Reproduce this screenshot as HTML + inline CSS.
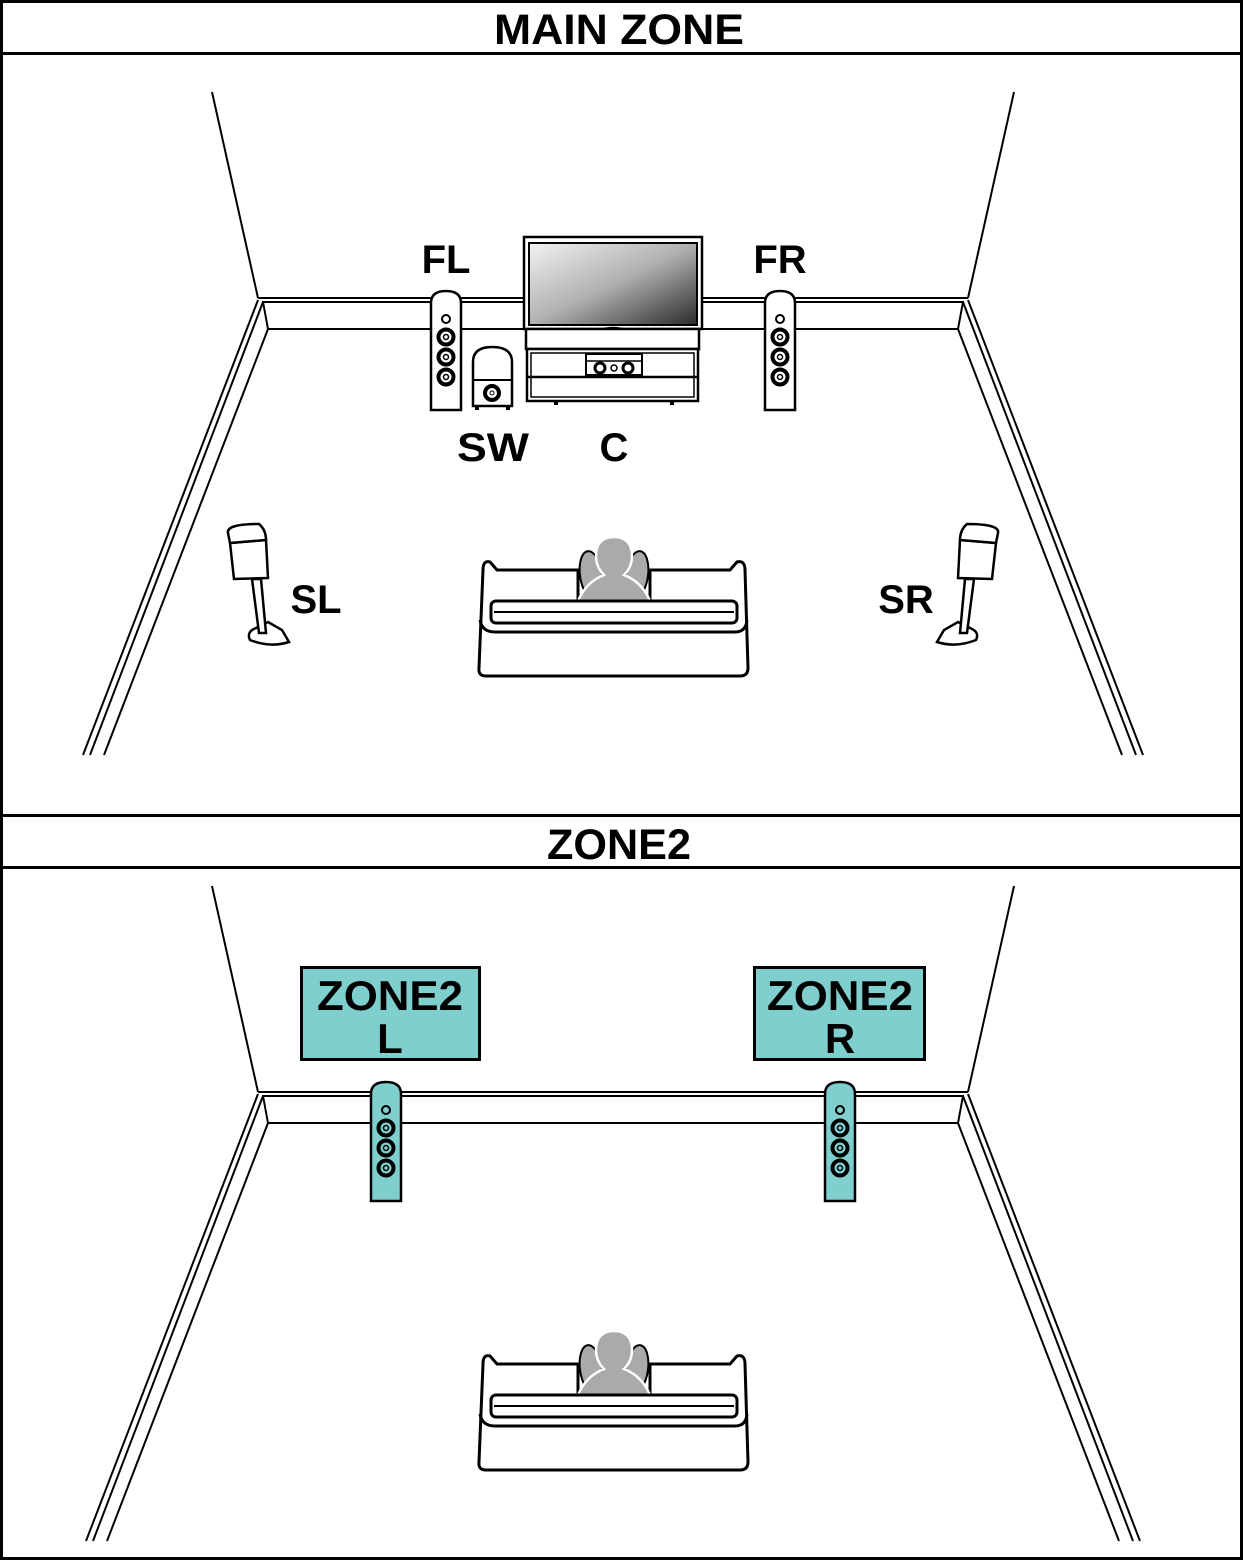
<!DOCTYPE html>
<html><head><meta charset="utf-8"><style>
html,body{margin:0;padding:0;background:#fff}
svg{display:block}
text{font-family:"Liberation Sans",sans-serif;font-weight:bold;fill:#000}
</style></head><body>
<svg width="1243" height="1561" viewBox="0 0 1243 1561" xmlns="http://www.w3.org/2000/svg">
<defs>
<linearGradient id="scr" x1="0" y1="0" x2="1" y2="1">
<stop offset="0" stop-color="#f2f2f2"/><stop offset="0.5" stop-color="#b0b0b0"/><stop offset="1" stop-color="#2a2a2a"/>
</linearGradient>
<g id="walls" fill="none" stroke="#000" stroke-width="2">
<line x1="212" y1="92" x2="258" y2="298"/>
<line x1="1014" y1="92" x2="968" y2="298"/>
<line x1="258" y1="298" x2="968" y2="298"/>
<line x1="262" y1="302" x2="964" y2="302"/>
<line x1="268" y1="329" x2="958" y2="329"/>
<line x1="263" y1="302" x2="268" y2="329"/>
<line x1="963" y1="302" x2="958" y2="329"/>
</g>
<g id="sofa">
<path d="M483,570 Q483,560 490,562 L497,570 L578,570 L578,600 L650,600 L650,570 L730,570 L737,562 Q745,560 745,570 L748,668 Q748,676 740,676 L486,676 Q478,676 479,668 Z" fill="#fff" stroke="#000" stroke-width="3"/>
<path d="M480,620 Q482,632 495,632 L735,632 Q746,632 747,620" fill="none" stroke="#000" stroke-width="3"/>
<ellipse cx="591" cy="575" rx="11" ry="24" transform="rotate(-8 591 575)" fill="#aaa" stroke="#000" stroke-width="2"/>
<ellipse cx="637" cy="575" rx="11" ry="24" transform="rotate(8 637 575)" fill="#aaa" stroke="#000" stroke-width="2"/>
<path d="M578,601 Q586,582 604,575 Q596,567 596,556 Q596,537 614,537 Q632,537 632,556 Q632,567 624,575 Q642,582 650,601 Z" fill="#aaa" stroke="#fff" stroke-width="2.5"/>
<rect x="491" y="601" width="246" height="22" rx="5" fill="#fff" stroke="#000" stroke-width="3"/>
<line x1="494" y1="612" x2="734" y2="612" stroke="#000" stroke-width="2"/>
</g>
<g id="tower">
<path d="M0,119 L0,12 Q0,0 15,0 Q30,0 30,12 L30,119 Z" stroke="#000" stroke-width="2.5"/>
<circle cx="15" cy="28" r="4" fill="none" stroke="#000" stroke-width="2"/>
<g fill="none" stroke="#000"><circle cx="15" cy="46" r="7.5" stroke-width="4"/><circle cx="15" cy="46" r="2.5" stroke-width="1.5"/>
<circle cx="15" cy="66" r="7.5" stroke-width="4"/><circle cx="15" cy="66" r="2.5" stroke-width="1.5"/>
<circle cx="15" cy="86" r="7.5" stroke-width="4"/><circle cx="15" cy="86" r="2.5" stroke-width="1.5"/></g>
</g>
</defs>
<rect x="1.5" y="1.5" width="1240" height="1557" fill="#fff" stroke="#000" stroke-width="3"/>
<line x1="0" y1="53.5" x2="1243" y2="53.5" stroke="#000" stroke-width="3"/>
<line x1="0" y1="815.5" x2="1243" y2="815.5" stroke="#000" stroke-width="3"/>
<line x1="0" y1="867.5" x2="1243" y2="867.5" stroke="#000" stroke-width="3"/>
<text x="619" y="44" font-size="43" text-anchor="middle" textLength="250" lengthAdjust="spacingAndGlyphs">MAIN ZONE</text>
<text x="619" y="859" font-size="43" text-anchor="middle" textLength="144" lengthAdjust="spacingAndGlyphs">ZONE2</text>

<use href="#walls"/>
<use href="#walls" transform="translate(0,794)"/>
<g fill="none" stroke="#000" stroke-width="2">
<line x1="258" y1="300" x2="83" y2="755"/><line x1="263" y1="302" x2="90" y2="755"/><line x1="268" y1="329" x2="104" y2="755"/>
<line x1="968" y1="300" x2="1143" y2="755"/><line x1="963" y1="302" x2="1136" y2="755"/><line x1="958" y1="329" x2="1122" y2="755"/>
<line x1="258" y1="1094" x2="86" y2="1541"/><line x1="263" y1="1096" x2="93" y2="1541"/><line x1="268" y1="1123" x2="107" y2="1541"/>
<line x1="968" y1="1094" x2="1140" y2="1541"/><line x1="963" y1="1096" x2="1133" y2="1541"/><line x1="958" y1="1123" x2="1119" y2="1541"/>
</g>
<use href="#sofa"/>
<use href="#sofa" transform="translate(0,794)"/>

<!-- TV -->
<rect x="524" y="237" width="178" height="92" fill="#fff" stroke="#000" stroke-width="2.5"/>
<rect x="529" y="243" width="168" height="82" fill="url(#scr)" stroke="#000" stroke-width="2"/>
<path d="M582,341 Q584,330 613,328 Q642,330 644,341 Z" fill="#fff" stroke="#000" stroke-width="2.5"/>
<rect x="526" y="329" width="173" height="20" fill="#fff" stroke="#000" stroke-width="2.5"/>
<rect x="527" y="349" width="171" height="52" fill="#fff" stroke="#000" stroke-width="2.5"/>
<rect x="531" y="353" width="163" height="44" fill="none" stroke="#000" stroke-width="1.5"/>
<line x1="527" y1="377" x2="698" y2="377" stroke="#000" stroke-width="2.5"/>
<rect x="554" y="401" width="4" height="4" fill="#000"/><rect x="670" y="401" width="4" height="4" fill="#000"/>
<rect x="586" y="354" width="56" height="21" fill="#fff" stroke="#000" stroke-width="2"/>
<line x1="586" y1="361" x2="642" y2="361" stroke="#000" stroke-width="1.5"/>
<g fill="#fff" stroke="#000"><circle cx="600" cy="368" r="5" stroke-width="3"/><circle cx="614" cy="368" r="3" stroke-width="1.5"/><circle cx="628" cy="368" r="5" stroke-width="3"/></g>

<use href="#tower" transform="translate(431,291)" fill="#fff"/>
<use href="#tower" transform="translate(765,291)" fill="#fff"/>
<!-- SW -->
<path d="M473,406 L473,362 Q473,347 492,347 Q512,347 512,362 L512,406 Z" fill="#fff" stroke="#000" stroke-width="2.5"/>
<line x1="473" y1="380" x2="512" y2="380" stroke="#000" stroke-width="2"/>
<circle cx="492" cy="393" r="7" fill="#fff" stroke="#000" stroke-width="4"/><circle cx="492" cy="393" r="2" fill="none" stroke="#000"/>
<rect x="475" y="406" width="4" height="4" fill="#000"/><rect x="506" y="406" width="4" height="4" fill="#000"/>

<!-- SL -->
<g fill="#fff" stroke="#000" stroke-width="2.5">
<path d="M250,640 Q246,632 256,628 L268,622 L282,630 L289,642 Q270,648 250,640 Z"/>
<path d="M252,579 L261,579 L266,633 L259,633 Z"/>
<path d="M230,543 L234,579 L268,578 L266,540 Z"/>
<path d="M228,533 Q226,524 259,524 Q266,530 266,540 L230,543 Z"/>
</g>
<!-- SR -->
<g fill="#fff" stroke="#000" stroke-width="2.5">
<path d="M976,640 Q980,632 970,628 L958,622 L944,630 L937,642 Q956,648 976,640 Z"/>
<path d="M974,579 L965,579 L960,633 L967,633 Z"/>
<path d="M996,543 L992,579 L958,578 L960,540 Z"/>
<path d="M998,533 Q1000,524 967,524 Q960,530 960,540 L996,543 Z"/>
</g>

<text x="446" y="273" font-size="40" text-anchor="middle">FL</text>
<text x="780" y="273" font-size="40" text-anchor="middle">FR</text>
<text x="493" y="461" font-size="40" text-anchor="middle" textLength="72" lengthAdjust="spacingAndGlyphs">SW</text>
<text x="614" y="461" font-size="40" text-anchor="middle">C</text>
<text x="316" y="613" font-size="40" text-anchor="middle">SL</text>
<text x="906" y="613" font-size="40" text-anchor="middle">SR</text>

<!-- Zone2 -->
<rect x="301.5" y="967.5" width="178" height="92" fill="#80cfcf" stroke="#000" stroke-width="3"/>
<rect x="754.5" y="967.5" width="170" height="92" fill="#80cfcf" stroke="#000" stroke-width="3"/>
<text x="390" y="1010" font-size="42" text-anchor="middle" textLength="146" lengthAdjust="spacingAndGlyphs">ZONE2</text>
<text x="390" y="1053" font-size="42" text-anchor="middle">L</text>
<text x="840" y="1010" font-size="42" text-anchor="middle" textLength="146" lengthAdjust="spacingAndGlyphs">ZONE2</text>
<text x="840" y="1053" font-size="42" text-anchor="middle">R</text>
<use href="#tower" transform="translate(371,1082)" fill="#80cfcf"/>
<use href="#tower" transform="translate(825,1082)" fill="#80cfcf"/>
</svg>
</body></html>
